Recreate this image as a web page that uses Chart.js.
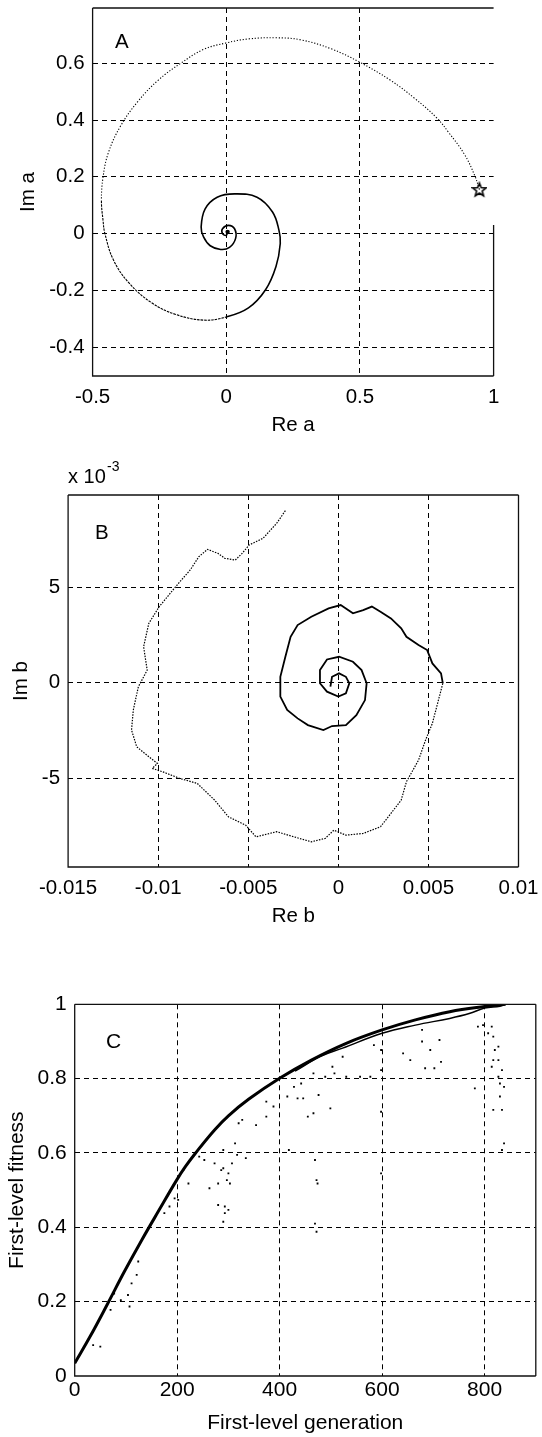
<!DOCTYPE html>
<html><head><meta charset="utf-8">
<script src="https://cdn.jsdelivr.net/npm/chart.js@4.4.0/dist/chart.umd.min.js"></script>
<style>
html,body{margin:0;padding:0;background:#fff;}
body{width:542px;height:1437px;position:relative;overflow:hidden;}
canvas{position:absolute;left:0;}
</style></head><body>
<canvas id="cA" width="542" height="450" style="top:0px"></canvas>
<canvas id="cB" width="542" height="490" style="top:450px"></canvas>
<canvas id="cC" width="542" height="497" style="top:940px"></canvas>
<script>
// ---------- Panel A data ----------
const reA = [0.947, 0.93, 0.891, 0.833, 0.788, 0.704, 0.613, 0.497, 0.393, 0.277, 0.186, 0.083, 0, -0.085, -0.169, -0.254, -0.331, -0.396, -0.441, -0.461, -0.467, -0.461, -0.454, -0.422, -0.364, -0.279, -0.189, -0.085, 0, 0.083, 0.147, 0.186, 0.202, 0.197, 0.173, 0.115, 0.031, -0.034, -0.079, -0.094, -0.085, -0.060, -0.021, 0.012, 0.035, 0.031, 0.008, -0.014, -0.014, 0, 0.005];
const imA = [0.155, 0.203, 0.279, 0.355, 0.407, 0.477, 0.541, 0.605, 0.651, 0.683, 0.690, 0.686, 0.672, 0.649, 0.601, 0.541, 0.465, 0.378, 0.285, 0.198, 0.116, 0.047, 0, -0.093, -0.174, -0.244, -0.285, -0.305, -0.294, -0.262, -0.198, -0.116, -0.035, 0.012, 0.076, 0.128, 0.140, 0.128, 0.087, 0.023, -0.012, -0.043, -0.056, -0.049, -0.017, 0.017, 0.029, 0.017, 0, -0.006, 0.006];
const startA = {re: 0.947, im: 0.155};
const xTicksA = [-0.5, 0, 0.5, 1];
const yTicksA = [-0.4, -0.2, 0, 0.2, 0.4, 0.6];

// ---------- Panel B data (Im b in units of 1e-3) ----------
const reB = [-0.00294, -0.00342, -0.00418, -0.00495, -0.00534, -0.00572, -0.0063, -0.00668, -0.00726, -0.00774, -0.00822, -0.00879, -0.00918, -0.00994, -0.01052, -0.01081, -0.01061, -0.0111, -0.01138, -0.01148, -0.01119, -0.01052, -0.01004, -0.01033, -0.00975, -0.00879, -0.00783, -0.00687, -0.0061, -0.00514, -0.00457, -0.00342, -0.00246, -0.0015, -0.00073, -0.00025, 0.00042, 0.00138, 0.00234, 0.00292, 0.00349, 0.00378, 0.00445, 0.00484, 0.00522, 0.00551, 0.0058, 0.0057, 0.00522, 0.00493, 0.00445, 0.00378, 0.00349, 0.00292, 0.00234, 0.00186, 0.00138, 0.00081, 0.00013, -0.00054, -0.0015, -0.00226, -0.00265, -0.00294, -0.00322, -0.00322, -0.00284, -0.00226, -0.00169, -0.00083, -0.00035, 0.00042, 0.001, 0.00148, 0.00157, 0.00129, 0.00081, 0.00004, -0.00063, -0.00102, -0.00102, -0.00063, 0, 0.00042, 0.00061, 0.00042, 0.00004, -0.00035, -0.00044];
const imB = [9.02, 8.36, 7.57, 7.22, 6.78, 6.43, 6.52, 6.78, 6.99, 6.61, 5.91, 5.30, 4.86, 3.99, 3.11, 1.89, 0.66, -0.21, -1.43, -2.48, -3.36, -3.88, -4.23, -4.49, -4.67, -5.02, -5.28, -6.15, -7.03, -7.47, -8.08, -7.81, -8.08, -8.34, -8.16, -7.73, -7.99, -7.90, -7.55, -6.85, -6.15, -5.19, -4.06, -3.01, -2.13, -1.08, -0.03, 0.49, 1.01, 1.71, 1.98, 2.41, 2.85, 3.37, 3.72, 3.99, 3.81, 3.64, 4.07, 3.90, 3.46, 3.02, 2.41, 1.36, 0.31, -0.73, -1.43, -1.87, -2.22, -2.48, -2.27, -2.22, -1.70, -0.91, -0.03, 0.66, 1.10, 1.36, 1.22, 0.66, -0.03, -0.47, -0.73, -0.56, -0.03, 0.31, 0.49, 0.31, -0.21];
const xTicksB = [-0.015, -0.01, -0.005, 0, 0.005, 0.01];
const yTicksB = [-5, 0, 5];

// ---------- Panel C data ----------
const genMain = [0, 30, 63, 97, 131, 165, 199, 216, 236, 273, 300, 340, 400, 462, 530, 600, 665, 732, 800, 841];
const fitMain = [0.034, 0.106, 0.191, 0.281, 0.366, 0.447, 0.527, 0.563, 0.600, 0.662, 0.700, 0.745, 0.801, 0.85, 0.895, 0.931, 0.958, 0.98, 0.994, 1.0];
const genLow = [430, 480, 523, 600, 665, 732, 770, 800, 830, 841];
const fitLow = [0.82, 0.86, 0.882, 0.922, 0.944, 0.962, 0.975, 0.99, 0.995, 1.0];
const genDots = [36,50,77,90,104,111,107,70,121,124,175,185,195,202,222,212,243,253,263,273,280,280,290,286,293,293,300,297,303,290,290,300,307,313,317,320,327,334,354,374,388,374,415,418,428,435,442,446,455,466,466,469,472,474,469,472,476,499,489,503,507,523,530,557,577,584,598,598,598,598,641,655,678,678,684,694,702,712,715,781,787,797,807,814,817,820,817,814,817,827,827,827,830,834,838,834,838,834,830];
const fitDots = [0.083,0.079,0.222,0.204,0.218,0.249,0.187,0.178,0.272,0.308,0.438,0.456,0.478,0.474,0.518,0.554,0.59,0.581,0.505,0.572,0.518,0.46,0.608,0.554,0.456,0.438,0.447,0.527,0.518,0.415,0.559,0.545,0.572,0.626,0.595,0.68,0.689,0.586,0.675,0.698,0.725,0.738,0.752,0.608,0.778,0.747,0.787,0.747,0.698,0.707,0.814,0.581,0.527,0.518,0.41,0.388,0.756,0.72,0.805,0.832,0.814,0.859,0.805,0.805,0.805,0.89,0.877,0.711,0.545,0.823,0.868,0.85,0.931,0.9,0.828,0.877,0.828,0.904,0.845,0.774,0.94,0.944,0.922,0.94,0.913,0.877,0.85,0.832,0.716,0.886,0.85,0.805,0.787,0.823,0.778,0.716,0.626,0.608,0.752];
const xTicksC = [0, 200, 400, 600, 800];
const yTicksC = [0, 0.2, 0.4, 0.6, 0.8, 1];

// ---------- helpers ----------
const FAM = '"Liberation Sans", Arial, sans-serif';
const pts = (xs, ys) => xs.map((x, i) => ({x: x, y: ys[i]}));

function starImage() {
  const c = document.createElement('canvas');
  c.width = 16; c.height = 17;
  const g = c.getContext('2d');
  g.strokeStyle = '#000'; g.lineWidth = 1.6;
  g.beginPath();
  for (let i = 0; i < 10; i++) {
    const r = i % 2 ? 3 : 7;
    const a = -Math.PI / 2 + i * Math.PI / 5;
    const x = 8 + r * Math.cos(a), y = 9 + r * Math.sin(a);
    if (i) g.lineTo(x, y); else g.moveTo(x, y);
  }
  g.closePath(); g.stroke();
  return c;
}

const decoPlugin = {
  id: 'deco',
  afterDraw(chart, args, o) {
    const {ctx, chartArea: a} = chart;
    ctx.save();
    ctx.strokeStyle = '#111'; ctx.lineWidth = 1.3;
    ctx.beginPath();
    ctx.moveTo(a.left, a.top); ctx.lineTo(a.right, a.top);
    ctx.moveTo(a.left, a.top); ctx.lineTo(a.left, a.bottom); ctx.lineTo(a.right, a.bottom);
    const rFrom = o.rightFromValue !== undefined ? chart.scales.y.getPixelForValue(o.rightFromValue) : a.top;
    ctx.moveTo(a.right, rFrom); ctx.lineTo(a.right, a.bottom);
    ctx.stroke();
    ctx.fillStyle = '#000';
    ctx.textAlign = 'left';
    (o.texts || []).forEach(t => {
      ctx.font = t.size + 'px ' + FAM;
      ctx.textBaseline = t.baseline || 'middle';
      ctx.fillText(t.text, t.x, t.y);
    });
    ctx.restore();
  }
};

function makeChart(id, g) {
  const tickFont = {family: FAM, size: g.font};
  const gridColor = (lo, hi) => c => (c.tick && (c.tick.value === lo || c.tick.value === hi)) ? 'rgba(0,0,0,0)' : '#000';
  return new Chart(document.getElementById(id), {
    type: 'scatter',
    data: {datasets: g.datasets},
    plugins: [decoPlugin],
    options: {
      responsive: false, animation: false, devicePixelRatio: 1,
      layout: {padding: {left: 0, right: g.W - g.right, top: g.top, bottom: 0}},
      plugins: {legend: {display: false}, tooltip: {enabled: false}, deco: g.deco},
      scales: {
        x: {
          type: 'linear', min: g.xMin, max: g.xMax,
          afterBuildTicks: s => { s.ticks = g.xTicks.map(v => ({value: v})); },
          afterFit: s => { s.height = g.H - g.bottom; s.paddingLeft = 0; s.paddingRight = 0; s.paddingTop = 0; s.paddingBottom = 0; },
          ticks: {font: tickFont, color: '#000', padding: g.xPad, maxRotation: 0, autoSkip: false, callback: v => String(v)},
          grid: {color: gridColor(g.xMin, g.xMax), lineWidth: 1, drawTicks: false},
          border: {display: false, dash: [5, 4]},
          title: {display: true, text: g.xTitle, font: tickFont, color: '#000', padding: {top: 0, bottom: g.xTitlePad}}
        },
        y: {
          type: 'linear', min: g.yMin, max: g.yMax,
          afterBuildTicks: s => { s.ticks = g.yTicks.map(v => ({value: v})); },
          afterFit: s => { s.width = g.left; s.paddingLeft = 0; s.paddingRight = 0; s.paddingTop = 0; s.paddingBottom = 0; },
          ticks: {font: tickFont, color: '#000', padding: g.yPad, autoSkip: false, callback: v => String(v)},
          grid: {color: gridColor(g.yMin, g.yMax), lineWidth: 1, drawTicks: false},
          border: {display: false, dash: [5, 4]},
          title: {display: true, text: g.yTitle, font: tickFont, color: '#000', padding: {top: g.yTitlePad, bottom: 0}}
        }
      }
    }
  });
}

// ---------- Panel A ----------
const A_DOT_END = 20, A_DASH_END = 28;
makeChart('cA', {
  W: 542, H: 450, left: 92.6, right: 493.6, top: 5, bottom: 376,
  xMin: -0.5, xMax: 1, yMin: -0.502, yMax: 0.795,
  xTicks: xTicksA, yTicks: yTicksA, font: 20.5, xPad: 9, yPad: 8,
  xTitle: 'Re a', yTitle: 'Im a', xTitlePad: 12.7, yTitlePad: 16.2,
  deco: {rightFromValue: 0.03, texts: [{text: 'A', x: 115, y: 42, size: 20.5}]},
  datasets: [
    {data: pts(reA, imA), showLine: true, borderColor: '#000', borderWidth: 1.1, tension: 0.4,
     pointRadius: c => c.dataIndex === reA.length - 1 ? 2.2 : 0, backgroundColor: '#000', pointBorderWidth: 0,
     segment: {borderDash: c => c.p0DataIndex < A_DOT_END ? [1.2, 1.8] : (c.p0DataIndex < A_DASH_END ? [2.5, 1] : undefined),
               borderWidth: c => c.p0DataIndex < A_DASH_END ? 1.1 : 1.6}},
    {data: [{x: startA.re, y: startA.im}], pointStyle: starImage(), pointRadius: 7, showLine: false}
  ]
});

// ---------- Panel B ----------
const B_DOT_END = 46;
makeChart('cB', {
  W: 542, H: 490, left: 68.1, right: 518.5, top: 45, bottom: 417,
  xMin: -0.015, xMax: 0.01, yMin: -9.66, yMax: 9.84,
  xTicks: xTicksB, yTicks: yTicksB, font: 20.5, xPad: 9, yPad: 8,
  xTitle: 'Re b', yTitle: 'Im b', xTitlePad: 11.2, yTitlePad: 9.3,
  deco: {texts: [
    {text: 'B', x: 95, y: 83, size: 20.5},
    {text: 'x 10', x: 68, y: 33, size: 20, baseline: 'alphabetic'},
    {text: '-3', x: 107, y: 20.5, size: 14, baseline: 'alphabetic'}
  ]},
  datasets: [
    {data: pts(reB, imB), showLine: true, borderColor: '#000', borderWidth: 1.2, pointRadius: 0, tension: 0,
     segment: {borderDash: c => c.p0DataIndex < B_DOT_END ? [1.5, 1.3] : undefined,
               borderWidth: c => c.p0DataIndex < B_DOT_END ? 1.2 : 1.8}}
  ]
});

// ---------- Panel C ----------
makeChart('cC', {
  W: 542, H: 497, left: 74.7, right: 535.8, top: 64.3, bottom: 436,
  xMin: 0, xMax: 900, yMin: 0, yMax: 1,
  xTicks: xTicksC, yTicks: yTicksC, font: 21, xPad: 2, yPad: 8,
  xTitle: 'First-level generation', yTitle: 'First-level fitness', xTitlePad: 1.4, yTitlePad: 4.7,
  deco: {texts: [{text: 'C', x: 106, y: 102, size: 21}]},
  datasets: [
    {data: pts(genMain, fitMain), showLine: true, borderColor: '#000', borderWidth: 3, pointRadius: 0, tension: 0.4},
    {data: pts(genLow, fitLow), showLine: true, borderColor: '#000', borderWidth: 1.5, pointRadius: 0, tension: 0.4},
    {data: pts(genDots, fitDots), showLine: false, pointStyle: 'rect', pointRadius: 1.3, backgroundColor: '#000', borderWidth: 0}
  ]
});
</script>
</body></html>
